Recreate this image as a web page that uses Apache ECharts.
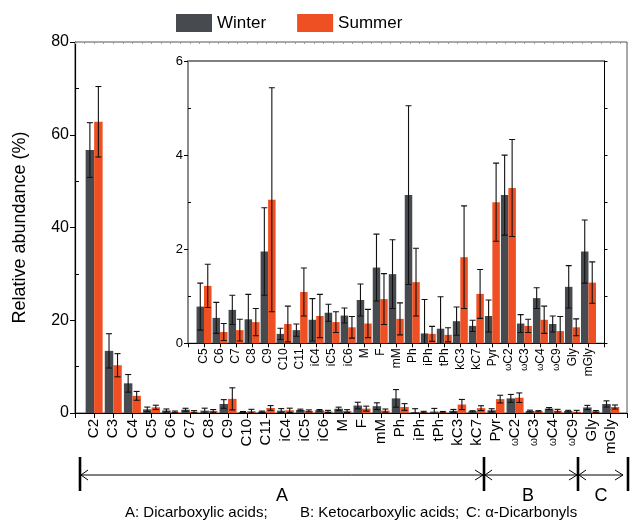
<!DOCTYPE html>
<html>
<head>
<meta charset="utf-8">
<script src="https://cdn.jsdelivr.net/npm/echarts@6/dist/echarts.min.js"></script>
<style>
  html, body { margin: 0; padding: 0; background: #fff; }
  #chart { width: 630px; height: 520px; }
</style>
</head>
<body>
<div id="chart"></div>
<script>
// Compound names (abbreviations) along the x axis
const categories = ['C2','C3','C4','C5','C6','C7','C8','C9','C10','C11','iC4','iC5','iC6','M','F','mM',
  'Ph','iPh','tPh','kC3','kC7','Pyr','ωC2','ωC3','ωC4','ωC9','Gly','mGly'];

// Relative abundance (%) – mean and standard deviation per season
const winterMean = [56.7, 13.4, 6.4, 0.78, 0.54, 0.71, 0.51, 1.95, 0.20, 0.28, 0.50, 0.65, 0.59, 0.92, 1.61, 1.47,
  3.15, 0.21, 0.31, 0.47, 0.37, 0.58, 3.15, 0.42, 0.96, 0.41, 1.20, 1.95];
const winterSd = [5.9, 3.7, 1.9, 0.50, 0.33, 0.31, 0.53, 0.93, 0.12, 0.13, 0.45, 0.18, 0.16, 0.34, 0.71, 0.73,
  1.90, 0.72, 0.68, 0.30, 0.12, 0.34, 0.85, 0.19, 0.22, 0.17, 0.45, 0.67];
const summerMean = [62.8, 10.3, 3.7, 1.22, 0.24, 0.28, 0.45, 3.05, 0.41, 1.09, 0.58, 0.45, 0.34, 0.42, 0.94, 0.52,
  1.30, 0.20, 0.18, 1.83, 1.05, 3.00, 3.30, 0.37, 0.50, 0.26, 0.34, 1.29];
const summerSd = [7.6, 2.5, 0.95, 0.46, 0.18, 0.23, 0.29, 2.38, 0.38, 0.51, 0.46, 0.22, 0.23, 0.30, 0.54, 0.34,
  0.72, 0.16, 0.15, 1.09, 0.52, 0.83, 1.03, 0.14, 0.29, 0.31, 0.18, 0.44];

// The inset zooms in on the minor species, starting from C5
const insetFrom = 3;

const mainTicks = [0, 20, 40, 60, 80];
const insetTicks = [0, 2, 4, 6];

const WINTER = '#474b4f';
const SUMMER = '#ef5023';
const FONT = '"Liberation Sans", Arial, Helvetica, sans-serif';

const MAIN_BAR = 8.5;
const INSET_BAR = 7.5;

const chart = echarts.init(document.getElementById('chart'), null, { renderer: 'canvas' });

function pairs(values, from) {
  return values.slice(from).map((v, i) => [i, v]);
}
function triples(means, sds, from) {
  return means.slice(from).map((v, i) => [i, v, sds[i + from]]);
}

function errorBars(offset, cap) {
  return function (params, api) {
    const x = api.value(0), m = api.value(1), s = api.value(2);
    const hi = api.coord([x, m + s]);
    const lo = api.coord([x, m - s]);
    const cx = hi[0] + offset;
    const style = { stroke: '#111', lineWidth: 1.1 };
    return {
      type: 'group',
      children: [
        { type: 'line', shape: { x1: cx, y1: hi[1], x2: cx, y2: lo[1] }, style },
        { type: 'line', shape: { x1: cx - cap, y1: hi[1], x2: cx + cap, y2: hi[1] }, style },
        { type: 'line', shape: { x1: cx - cap, y1: lo[1], x2: cx + cap, y2: lo[1] }, style }
      ]
    };
  };
}

function nameAt(from) {
  return function (v) {
    const i = Math.round(v);
    if (Math.abs(v - i) > 1e-6 || i < 0) return '';
    const c = categories[i + from];
    if (!c) return '';
    return c.charAt(0) === 'ω' ? '{w|ω}' + c.slice(1) : c;
  };
}

const mainLabelRich = { w: { fontSize: 10, fontFamily: FONT, color: '#000' } };
const insetLabelRich = { w: { fontSize: 9, fontFamily: FONT, color: '#000' } };

// Group brackets below the axis: A (dicarboxylic), B (ketocarboxylic), C (α-dicarbonyls)
function buildGroupBrackets() {
  const y = 475, top = 457, bottom = 491, head = 8, spread = 5;
  const stops = [80, 484, 578, 628];
  const els = [];
  const ink = { stroke: '#000', lineWidth: 1 };
  els.push({ type: 'line', shape: { x1: stops[0], y1: y, x2: stops[3] - 5, y2: y }, style: ink });
  stops.forEach((x, k) => {
    els.push({ type: 'line', shape: { x1: x, y1: top, x2: x, y2: bottom }, style: { stroke: '#000', lineWidth: 2.6 } });
    if (k < 3) {
      els.push({ type: 'polyline', shape: { points: [[x + head, y - spread], [x + 1, y], [x + head, y + spread]] }, style: { stroke: '#000', fill: null, lineWidth: 1 } });
    }
    if (k > 0) {
      const tip = k === 3 ? x - 5 : x - 1;
      els.push({ type: 'polyline', shape: { points: [[tip - head, y - spread], [tip, y], [tip - head, y + spread]] }, style: { stroke: '#000', fill: null, lineWidth: 1 } });
    }
  });
  [['A', 282], ['B', 528], ['C', 601]].forEach(([t, x]) => {
    els.push({ type: 'text', x: x, y: 496, style: { text: t, fontSize: 18, fontFamily: FONT, fill: '#000', textAlign: 'center', textVerticalAlign: 'middle' } });
  });
  [['A: Dicarboxylic acids;', 125], ['B: Ketocarboxylic acids;', 300], ['C: α-Dicarbonyls', 466]].forEach(([t, x]) => {
    els.push({ type: 'text', x: x, y: 513, style: { text: t, fontSize: 15, fontFamily: FONT, fill: '#000', textAlign: 'left', textVerticalAlign: 'middle' } });
  });
  return els;
}

const option = {
  animation: false,
  backgroundColor: '#fff',
  textStyle: { fontFamily: FONT },
  legend: {
    data: ['Winter', 'Summer'],
    left: 176, top: 14, padding: 0,
    itemWidth: 36, itemHeight: 18, itemGap: 31,
    icon: 'rect',
    textStyle: { fontSize: 17, color: '#000', fontFamily: FONT }
  },
  grid: [
    { left: 75, top: 42, width: 552, height: 371, show: true, borderColor: '#555', borderWidth: 1, backgroundColor: 'transparent' },
    { left: 188, top: 61, width: 416.5, height: 282.3, show: true, borderColor: '#000', borderWidth: 1, backgroundColor: 'transparent' }
  ],
  xAxis: [
    {
      type: 'value', gridIndex: 0, min: -1, max: 27.85, interval: 1,
      axisLine: { onZero: false, lineStyle: { color: '#000', width: 1 } },
      axisTick: { length: 5, lineStyle: { color: '#000' } },
      splitLine: { show: false },
      axisLabel: { rotate: 90, fontSize: 15, color: '#000', margin: 6, formatter: nameAt(0), rich: mainLabelRich }
    },
    {
      type: 'value', gridIndex: 0, position: 'top', min: -1, max: 27.85, interval: 0.5,
      axisLine: { show: false, onZero: false },
      axisTick: { inside: true, length: 2, lineStyle: { color: '#999' } },
      splitLine: { show: false },
      axisLabel: { show: false }
    },
    {
      type: 'value', gridIndex: 1, min: -1, max: 25, interval: 1,
      axisLine: { onZero: false, lineStyle: { color: '#000', width: 1 } },
      axisTick: { length: 4, lineStyle: { color: '#000' } },
      splitLine: { show: false },
      axisLabel: { rotate: 90, fontSize: 12, color: '#000', margin: 5, formatter: nameAt(insetFrom), rich: insetLabelRich }
    }
  ],
  yAxis: [
    {
      type: 'value', gridIndex: 0, position: 'left', min: mainTicks[0], max: mainTicks[mainTicks.length - 1], interval: mainTicks[1] - mainTicks[0],
      name: 'Relative abundance (%)', nameLocation: 'middle', nameGap: 46,
      nameTextStyle: { fontSize: 18, color: '#000', fontFamily: FONT },
      axisLine: { show: true, onZero: false, lineStyle: { color: '#000', width: 1.2 } },
      axisTick: { show: true, length: 5, lineStyle: { color: '#000' } },
      splitLine: { show: false },
      axisLabel: { fontSize: 16, color: '#000', margin: 6 }
    },
    {
      type: 'value', gridIndex: 0, position: 'left', min: 0, max: 80, interval: 20,
      axisLine: { show: false, onZero: false },
      axisTick: { show: true, inside: true, length: 0 },
      minorTick: { show: true, splitNumber: 2, length: 4, lineStyle: { color: '#000' } },
      splitLine: { show: false },
      axisLabel: { show: false }
    },
    {
      type: 'value', gridIndex: 1, position: 'left', min: insetTicks[0], max: insetTicks[insetTicks.length - 1], interval: insetTicks[1] - insetTicks[0],
      axisLine: { show: true, onZero: false, lineStyle: { color: '#8a8a8a', width: 2 } },
      axisTick: { show: true, length: 4, lineStyle: { color: '#000' } },
      splitLine: { show: false },
      axisLabel: { fontSize: 13, color: '#000', margin: 5 }
    },
    {
      type: 'value', gridIndex: 1, position: 'left', min: 0, max: 6, interval: 2,
      axisLine: { show: false, onZero: false },
      axisTick: { show: true, inside: true, length: 0 },
      minorTick: { show: true, splitNumber: 2, length: 3, lineStyle: { color: '#000' } },
      splitLine: { show: false },
      axisLabel: { show: false }
    },
    {
      type: 'value', gridIndex: 1, position: 'right', min: 0, max: 6, interval: 1,
      axisLine: { show: true, onZero: false, lineStyle: { color: '#000', width: 1 } },
      axisTick: { show: true, length: 3, lineStyle: { color: '#000' } },
      splitLine: { show: false },
      axisLabel: { show: false }
    }
  ],
  series: [
    {
      name: 'Winter', type: 'bar', xAxisIndex: 0, yAxisIndex: 0,
      barWidth: MAIN_BAR, barGap: '0%',
      itemStyle: { color: WINTER },
      data: pairs(winterMean, 0)
    },
    {
      name: 'Summer', type: 'bar', xAxisIndex: 0, yAxisIndex: 0,
      barWidth: MAIN_BAR, barGap: '0%',
      itemStyle: { color: SUMMER },
      data: pairs(summerMean, 0)
    },
    {
      name: 'Winter SD', type: 'custom', xAxisIndex: 0, yAxisIndex: 0, clip: true, z: 5,
      renderItem: errorBars(-MAIN_BAR / 2, 3),
      data: triples(winterMean, winterSd, 0)
    },
    {
      name: 'Summer SD', type: 'custom', xAxisIndex: 0, yAxisIndex: 0, clip: true, z: 5,
      renderItem: errorBars(MAIN_BAR / 2, 3),
      data: triples(summerMean, summerSd, 0)
    },
    {
      name: 'Winter', type: 'bar', xAxisIndex: 2, yAxisIndex: 2,
      barWidth: INSET_BAR, barGap: '0%',
      itemStyle: { color: WINTER },
      data: pairs(winterMean, insetFrom)
    },
    {
      name: 'Summer', type: 'bar', xAxisIndex: 2, yAxisIndex: 2,
      barWidth: INSET_BAR, barGap: '0%',
      itemStyle: { color: SUMMER },
      data: pairs(summerMean, insetFrom)
    },
    {
      name: 'Winter SD', type: 'custom', xAxisIndex: 2, yAxisIndex: 2, clip: true, z: 5,
      renderItem: errorBars(-INSET_BAR / 2, 3),
      data: triples(winterMean, winterSd, insetFrom)
    },
    {
      name: 'Summer SD', type: 'custom', xAxisIndex: 2, yAxisIndex: 2, clip: true, z: 5,
      renderItem: errorBars(INSET_BAR / 2, 3),
      data: triples(summerMean, summerSd, insetFrom)
    }
  ],
  graphic: buildGroupBrackets()
};

chart.setOption(option);
</script>
</body>
</html>
